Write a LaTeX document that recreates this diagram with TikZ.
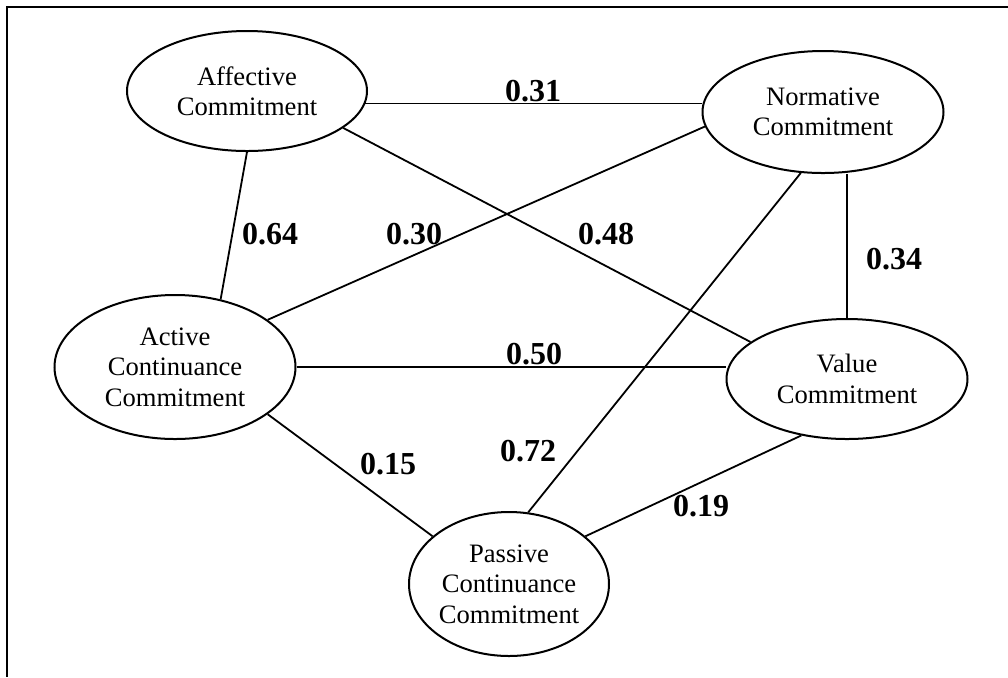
\documentclass[tikz,border=0pt]{standalone}
\usepackage{fontspec}
\setmainfont{Liberation Serif}
\usetikzlibrary{shapes.geometric}
\tikzset{
	factor/.style={ellipse, draw, line width=1pt, inner sep=0pt, align=center,
		font=\fontsize{13.3}{15.2}\selectfont},
	weight/.style={inner sep=0pt, font=\fontsize{16}{18}\selectfont\bfseries},
	link/.style={line width=0.9pt}
}

\begin{document}
\begin{tikzpicture}[x=0.5pt, y=-0.5pt]
		%%%%% START %%%%%
		\useasboundingbox (0, 0) rectangle (1008, 677);
		
		\draw[line width=1.1pt] (1008, 7) -- (7, 7) -- (7, 677);
		
		\node[factor, minimum width=120pt, minimum height=60pt] (aff) at (247, 91) {Affective\\Commitment};
		\node[factor, minimum width=120.5pt, minimum height=61pt] (norm) at (823, 112) {Normative\\Commitment};
		\node[factor, minimum width=120.5pt, minimum height=72pt] (act) at (175, 367) {Active\\Continuance\\Commitment};
		\node[factor, minimum width=120.5pt, minimum height=60pt] (val) at (847, 379) {Value\\Commitment};
		\node[factor, minimum width=100pt, minimum height=72pt] (pas) at (509, 584) {Passive\\Continuance\\Commitment};
		
		\draw[link] (aff.-6) -- (aff.-6 -| norm.west);
		\draw[link] (aff.-21) -- (val.159);
		\draw[link] (aff.south) -- (act.56);
		\draw[link] (norm.187) -- (act.27);
		\draw[link] (norm.250) -- (pas.75);
		\draw[link] (norm.south -| val.north) -- (val.north);
		\draw[link] (act.east) -- (act.east -| val.west);
		\draw[link] (act.-27) -- (pas.148);
		\draw[link] (val.231) -- (pas.32);
		
		\node[weight] (w31) at (533, 91) {0.31};
		\node[weight] (w64) at (270, 234) {0.64};
		\node[weight] (w30) at (414, 234) {0.30};
		\node[weight] (w48) at (606, 234) {0.48};
		\node[weight] (w34) at (894, 259) {0.34};
		\node[weight] (w50) at (534, 354) {0.50};
		\node[weight] (w15) at (388, 464) {0.15};
		\node[weight] (w72) at (528, 451) {0.72};
		\node[weight] (w19) at (701, 506) {0.19};
		
		%%%%% END %%%%%
\end{tikzpicture}
\end{document}
